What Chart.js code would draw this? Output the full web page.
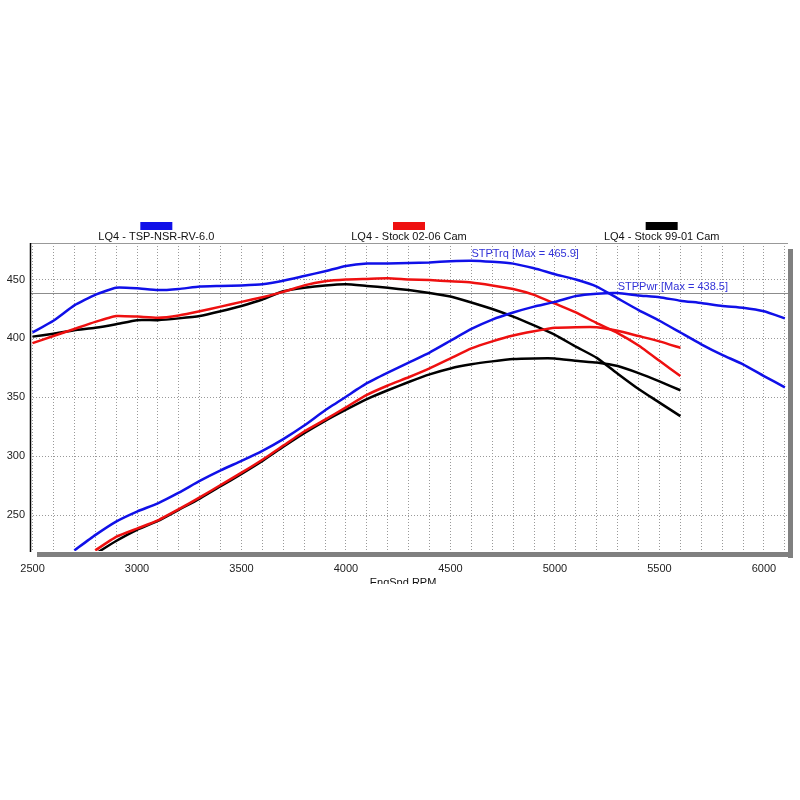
<!DOCTYPE html>
<html>
<head>
<meta charset="utf-8">
<script src="https://cdn.jsdelivr.net/npm/chart.js@4"></script>
<style>
  body { margin: 0; background: #fff; }
  canvas { display: block; }
</style>
</head>
<body>
<canvas id="dyno" width="800" height="800"></canvas>
<script>
// engine speed, every 100 rpm
const rpm = [2500, 2600, 2700, 2800, 2900, 3000, 3100, 3200, 3300, 3400, 3500, 3600, 3700,
  3800, 3900, 4000, 4100, 4200, 4300, 4400, 4500, 4600, 4700, 4800, 4900, 5000, 5100,
  5200, 5300, 5400, 5500, 5600, 5700, 5800, 5900, 6000, 6100];
const yTicks = [250, 300, 350, 400, 450];

const seriesNames = ['LQ4 - TSP-NSR-RV-6.0', 'LQ4 - Stock 02-06 Cam', 'LQ4 - Stock 99-01 Cam'];

// TSP cam
const tspTorque = [405, 415, 428, 437, 443, 442.5, 441, 442, 444, 444.5, 445, 446, 449, 453, 457,
  461.5, 463.5, 463.5, 464, 464.5, 465.5, 465.9, 465, 463.5, 459.5, 454.5, 450, 444, 434, 424,
  415, 405, 395, 386, 378, 368, 358.5];
const tspPower = [null, null, 220, 233, 244.5, 253, 260, 269, 279, 288, 296, 304.5, 314.5, 326, 339,
  350.5, 362, 371, 379.5, 388, 398, 408, 416, 422, 427, 431, 436, 438, 438.5, 436.5, 435, 432,
  430, 427.5, 426, 423, 417];

// stock 02-06 cam
const s0206Torque = [396, 402, 408, 414, 419, 418.5, 417.5, 419.5, 423, 427, 431, 435, 439.5, 445,
  448.5, 450, 450.5, 451, 450, 449.5, 448.5, 447.5, 445, 442, 437, 429.5, 422, 413, 404.5, 394,
  381, 368];
const s0206Power = [null, null, null, 220, 231.5, 238.5, 245.5, 255, 265, 275.5, 286, 297, 309, 321,
  331, 341.5, 352, 360, 367, 374.5, 383, 391.5, 397.5, 402.5, 406, 409, 409.5, 409.5, 406.5, 402,
  397.5, 392];

// stock 99-01 cam
const s9901Torque = [401.5, 404, 407, 409, 412, 415.5, 415.5, 417, 419, 423, 427.5, 433, 440, 443,
  445, 446, 444.5, 443, 441, 438.5, 435.5, 430.5, 425, 418.5, 411, 403, 393, 383.5, 370, 357,
  345.5, 334];
const s9901Power = [null, null, null, 217, 228, 237.5, 245, 254.5, 264, 274.5, 285, 296, 308, 319.5,
  330, 339.5, 348.5, 356, 363, 369.5, 374.5, 378, 380.5, 382.5, 383, 383, 381, 379.5, 376.5,
  370.5, 363.5, 356];

const colors = ['#1010e8', '#ee1010', '#000000'];
const font = { family: '"Liberation Sans", Arial, sans-serif', size: 11 };
const fontStr = '11px "Liberation Sans", Arial, sans-serif';

const toXY = arr => arr.map((v, i) => ({ x: rpm[i], y: v }));

const peakTorque = Math.max(...tspTorque);
const peakTorqueRpm = rpm[tspTorque.indexOf(peakTorque)];
const peakPower = Math.max(...tspPower.filter(v => v !== null));
const peakPowerRpm = rpm[tspPower.indexOf(peakPower)];

function line(data, color) {
  return { data: toXY(data), borderColor: color, backgroundColor: color, borderWidth: 2.5,
    pointRadius: 0, tension: 0.15, fill: false };
}

const maxLine = {
  id: 'maxLine',
  beforeDatasetsDraw(chart) {
    const { ctx, chartArea: a, scales } = chart;
    const y = Math.round(scales.y.getPixelForValue(peakPower)) + 0.5;
    ctx.save();
    ctx.strokeStyle = '#8c8c8c';
    ctx.lineWidth = 1;
    ctx.beginPath();
    ctx.moveTo(a.left, y);
    ctx.lineTo(a.right, y);
    ctx.stroke();
    ctx.restore();
  }
};

const overlay = {
  id: 'overlay',
  afterDraw(chart) {
    const { ctx, chartArea: a, scales } = chart;
    ctx.save();

    // frame + shadow
    ctx.fillStyle = '#808080';
    ctx.fillRect(a.left + 7, a.bottom + 1, a.right - a.left - 2, 5);
    ctx.fillRect(a.right, a.top + 6, 5, a.bottom - a.top + 1);
    ctx.strokeStyle = '#999';
    ctx.lineWidth = 1;
    ctx.beginPath();
    ctx.moveTo(a.left, a.top + 0.5);
    ctx.lineTo(a.right, a.top + 0.5);
    ctx.stroke();
    ctx.strokeStyle = '#000';
    ctx.lineWidth = 1.5;
    ctx.beginPath();
    ctx.moveTo(a.left + 0.5, a.top);
    ctx.lineTo(a.left + 0.5, a.bottom + 1);
    ctx.stroke();

    // legend, box above name, one per third
    ctx.font = fontStr;
    ctx.textAlign = 'center';
    ctx.textBaseline = 'middle';
    const w = a.right - a.left;
    seriesNames.forEach((name, i) => {
      const cx = a.left + w * (i + 0.5) / 3;
      ctx.fillStyle = colors[i];
      ctx.fillRect(cx - 16, a.top - 21, 32, 8);
      ctx.fillStyle = '#111';
      ctx.fillText(name, cx, a.top - 6);
    });

    // peak labels
    ctx.fillStyle = '#3232d8';
    ctx.textAlign = 'left';
    ctx.textBaseline = 'bottom';
    ctx.fillText('STPTrq [Max = ' + peakTorque.toFixed(1) + ']',
      scales.x.getPixelForValue(peakTorqueRpm), scales.y.getPixelForValue(peakTorque) - 1);
    ctx.fillText('STPPwr [Max = ' + peakPower.toFixed(1) + ']',
      scales.x.getPixelForValue(peakPowerRpm), scales.y.getPixelForValue(peakPower) - 1);

    // axis title, cut off at the bottom like the original
    ctx.beginPath();
    ctx.rect(0, 0, 800, a.bottom + 33);
    ctx.clip();
    ctx.fillStyle = '#111';
    ctx.textAlign = 'center';
    ctx.textBaseline = 'top';
    ctx.fillText('EngSpd RPM', (a.left + a.right) / 2 - 6, a.bottom + 26);
    ctx.restore();
  }
};

new Chart(document.getElementById('dyno'), {
  type: 'line',
  data: {
    datasets: [
      line(tspTorque, colors[0]),
      line(tspPower, colors[0]),
      line(s0206Torque, colors[1]),
      line(s0206Power, colors[1]),
      line(s9901Torque, colors[2]),
      line(s9901Power, colors[2])
    ]
  },
  options: {
    responsive: false,
    animation: false,
    layout: { padding: { top: 243, right: 12, bottom: 0, left: 0 } },
    plugins: { legend: { display: false }, tooltip: { enabled: false } },
    scales: {
      x: {
        type: 'linear', min: 2488, max: 6115,
        afterBuildTicks: s => { s.ticks = rpm.map(v => ({ value: v })); },
        afterFit: s => { s.height = 249; },
        ticks: { autoSkip: false, maxRotation: 0, padding: 11, font, color: '#222',
          callback: v => (v % 500 === 0 ? String(v) : '') },
        grid: { color: '#999', drawTicks: false },
        border: { display: false, dash: [1, 2] }
      },
      y: {
        min: 219.5, max: 481,
        afterBuildTicks: s => { s.ticks = yTicks.map(v => ({ value: v })); },
        afterFit: s => { s.width = 30; },
        ticks: { padding: 5, font, color: '#222' },
        grid: { color: '#999', drawTicks: false },
        border: { display: false, dash: [1, 2] }
      }
    }
  },
  plugins: [maxLine, overlay]
});
</script>
</body>
</html>
